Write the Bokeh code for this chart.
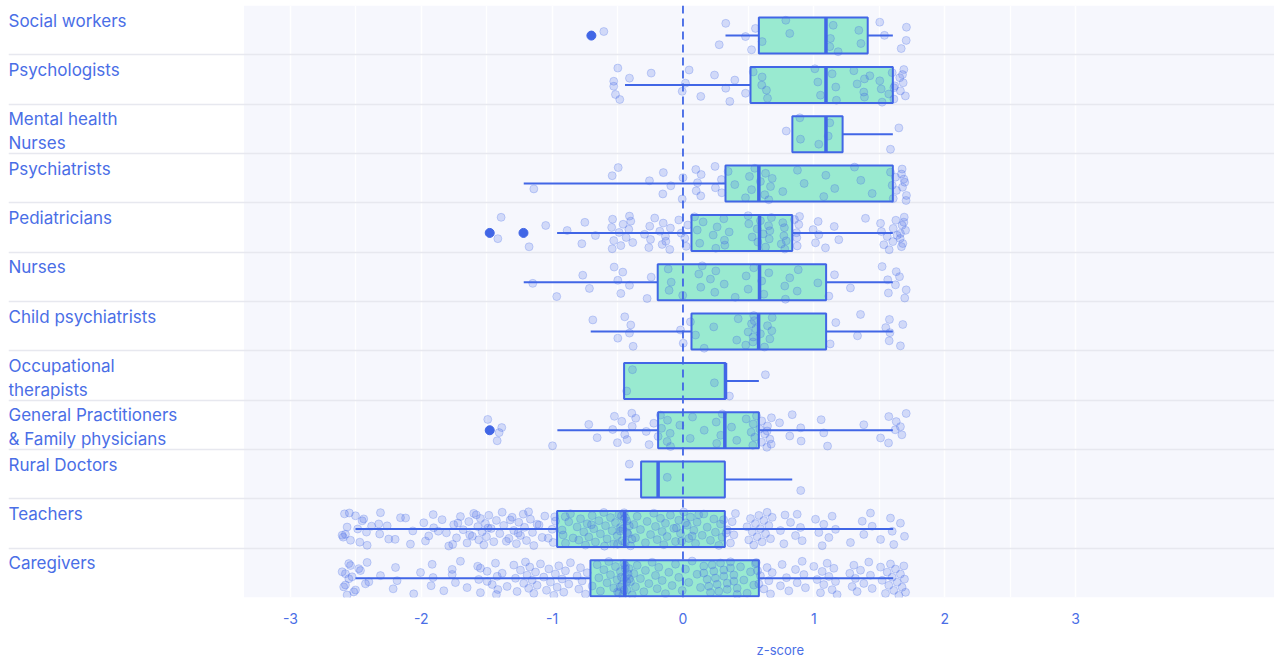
from bokeh.plotting import figure
from bokeh.models import FixedTicker, Range1d, Span, ColumnDataSource, Title
from bokeh.embed import file_html
from bokeh.resources import INLINE
from bokeh.core.properties import value

# ---------------- data ----------------
categories = ["Social workers", "Psychologists", "Mental health\nNurses", "Psychiatrists",
              "Pediatricians", "Nurses", "Child psychiatrists", "Occupational\ntherapists",
              "General Practitioners\n& Family physicians", "Rural Doctors", "Teachers", "Caregivers"]

tick_values = [-3, -2, -1, 0, 1, 2, 3]
tick_labels = ["-3", "-2", "-1", "0", "1", "2", "3"]

whisker_low = [0.325, -0.443, 0.836, -1.217, -0.962, -1.217, -0.705, -0.45, -0.96, -0.445, -2.503, -2.503]
q1 =          [0.58, 0.516, 0.836, 0.325, 0.065, -0.193, 0.065, -0.45, -0.19, -0.32, -0.962, -0.707]
median =      [1.093, 1.093, 1.093, 0.58, 0.585, 0.585, 0.578, 0.325, 0.32, -0.19, -0.445, -0.445]
q3 =          [1.412, 1.604, 1.22, 1.604, 0.835, 1.094, 1.094, 0.325, 0.58, 0.32, 0.32, 0.58]
whisker_high = [1.604, 1.604, 1.604, 1.604, 1.604, 1.604, 1.604, 0.58, 1.604, 0.835, 1.607, 1.607]

outliers_social_workers = [-0.70]
outliers_pediatricians = [-1.477, -1.219]
outliers_gp = [-1.477]

pts_social_workers = [-0.605, 0.277, 0.327, 0.478, 0.524, 0.554, 0.605, 0.786, 0.816, 1.122, 1.148, 1.127,
                      1.186, 1.344, 1.36, 1.504, 1.54, 1.668, 1.708, 1.706]
pts_psychologists = [-0.498, -0.529, -0.516, -0.243, -0.529, -0.483, -0.409, -0.006, 0.047, 0.019, 0.136,
                     0.241, 0.327, 0.358, 0.396, 0.478, 0.537, 0.602, 0.646, 0.605, 0.638, 1.008, 1.031,
                     1.051, 1.14, 1.168, 1.173, 1.387, 1.382, 1.306, 1.331, 1.387, 1.428, 1.515, 1.522,
                     1.504, 1.573, 1.599, 1.619, 1.612, 1.657, 1.662, 1.688, 1.683, 1.70, 1.678, 1.612]
pts_mh_nurses = [0.898, 0.893, 0.789, 1.038, 1.122, 1.11, 1.586, 1.65]
pts_psychiatrists = [-0.541, -1.14, -0.495, -0.256, -0.154, -0.150, -0.093, -0.006, 0.0, 0.101, 0.098,
                     0.111, 0.136, 0.139, 0.248, 0.245, 0.294, 0.297, 0.345, 0.396, 0.478, 0.508, 0.524,
                     0.549, 0.592, 0.625, 0.631, 0.669, 0.656, 0.682, 0.763, 0.875, 0.926, 1.076, 1.092,
                     1.16, 1.311, 1.359, 1.446, 1.586, 1.599, 1.607, 1.624, 1.632, 1.675, 1.695, 1.708,
                     1.67, 1.678, 1.705, 1.688]
pts_pediatricians = [-1.176, -1.049, -1.415, -1.39, -0.885, -0.773, -0.75, -0.669, -0.541, -0.545, -0.529,
                     -0.538, -0.488, -0.475, -0.457, -0.434, -0.409, -0.414, -0.384, -0.399, -0.294, -0.261,
                     -0.254, -0.248, -0.216, -0.177, -0.159, -0.151, -0.134, -0.101, -0.096, -0.131, -0.032,
                     -0.014, 0.024, 0.037, 0.014, 0.088, 0.109, 0.128, 0.154, 0.231, 0.251, 0.261, 0.317,
                     0.312, 0.353, 0.320, 0.503, 0.529, 0.498, 0.567, 0.572, 0.592, 0.613, 0.631, 0.654,
                     0.659, 0.676, 0.664, 0.751, 0.763, 0.771, 0.778, 0.775, 0.789, 0.852, 0.868, 0.873,
                     0.885, 0.870, 0.891, 0.995, 1.013, 1.033, 1.038, 1.089, 1.156, 1.191, 1.395, 1.517,
                     1.535, 1.51, 1.561, 1.576, 1.607, 1.604, 1.627, 1.662, 1.67, 1.675, 1.66, 1.691, 1.701,
                     1.68, 1.688, 1.637]
pts_nurses = [-1.148, -0.965, -0.766, -0.715, -0.526, -0.498, -0.475, -0.46, -0.409, -0.274, -0.243,
              -0.106, -0.113, -0.09, -0.002, 0.121, 0.136, 0.147, 0.21, 0.243, 0.251, 0.315, 0.399, 0.483,
              0.498, 0.541, 0.602, 0.618, 0.656, 0.778, 0.783, 0.816, 0.873, 0.881, 1.031, 1.115, 1.158,
              1.28, 1.522, 1.565, 1.57, 1.63, 1.624, 1.695, 1.655, 1.706]
pts_child_psychiatrists = [-0.689, -0.409, -0.381, -0.399, -0.498, -0.445, -0.019, 0.002, 0.057, 0.096,
                           0.162, 0.235, 0.411, 0.422, 0.498, 0.48, 0.524, 0.537, 0.541, 0.557, 0.535,
                           0.545, 0.592, 0.623, 0.646, 0.664, 0.682, 0.679, 1.125, 1.168, 1.334, 1.357,
                           1.55, 1.576, 1.578, 1.582, 1.662, 1.68]
pts_occupational = [-0.43, -0.386, 0.24, 0.355, 0.63]
pts_gp = [-1.385, -1.42, -1.492, -1.405, -0.997, -0.72, -0.656, -0.524, -0.537, -0.501, -0.468, -0.445,
          -0.391, -0.388, -0.427, -0.361, -0.281, -0.259, -0.223, -0.19, -0.172, -0.164, -0.121, -0.118,
          -0.098, -0.095, -0.024, 0.055, 0.073, 0.162, 0.258, 0.254, 0.289, 0.3, 0.371, 0.411, 0.483, 0.521,
          0.534, 0.537, 0.549, 0.562, 0.587, 0.6, 0.602, 0.625, 0.641, 0.646, 0.664, 0.676, 0.643, 0.674,
          0.738, 0.816, 0.835, 0.9, 0.903, 1.056, 1.076, 1.105, 1.382, 1.51, 1.573, 1.622, 1.571, 1.63,
          1.673, 1.706, 1.662]
pts_rural = [-0.41, -0.12, 0.9]
pts_teachers = [
    -2.605, -2.587, -2.567, -2.541, -2.44, -2.419, -2.414, -2.325, -2.597, -2.503, -2.486, -2.47, -2.452,
    -2.318, -2.312, -2.261, -2.249, -2.159, -2.065, -2.083, -1.981, -1.943, -1.909, -1.905, -1.968, -1.841,
    -1.808, -1.79, -1.752, -1.731, -1.701, -1.68, -1.65, -1.637, -1.63, -1.599, -1.568, -1.561, -1.548,
    -1.535, -1.522, -1.51, -1.502, -1.484, -1.466, -1.446, -1.426, -1.4, -1.382, -1.37, -1.331, -1.306,
    -1.293, -1.273, -1.255, -1.242, -1.221, -1.211, -1.196, -1.166, -1.15, -1.14, -1.115, -1.076, -1.056,
    -1.0, -0.992, -0.975, -2.58, -2.55, -2.38, -2.2, -2.12, -1.87, -1.76, -1.72, -1.61, -1.58, -1.49,
    -1.35, -1.32, -1.26, -1.18, -1.1, -1.03, -0.98,
    -0.924, -0.898, -0.873, -0.916, -0.86, -0.809, -0.796, -0.783, -0.758, -0.745, -0.732, -0.72, -0.694,
    -0.682, -0.669, -0.643, -0.631, -0.605, -0.592, -0.58, -0.554, -0.541, -0.529, -0.516, -0.503, -0.49,
    -0.478, -0.465, -0.452, -0.427, -0.401, -0.376, -0.363, -0.35, -0.325, -0.287, -0.274, -0.248, -0.223,
    -0.21, -0.197, -0.172, -0.159, -0.147, -0.134, -0.121, -0.096, -0.07, -0.057, -0.032, -0.019, 0.006,
    0.032, 0.044, 0.057, 0.083, 0.096, 0.108, 0.147, 0.159, 0.185, 0.21, 0.236, 0.248, 0.274, 0.287,
    0.299, -0.47, -0.46, -0.44, -0.43, -0.42, -0.45, -0.41, -0.39, -0.44, -0.48, -0.5, 0.02, 0.07, 0.12,
    -0.05, -0.01, 0.31, 0.33, -0.6, -0.7, -0.84, -0.9,
    0.338, 0.363, 0.376, 0.389, 0.401, 0.49, 0.503, 0.516, 0.529, 0.541, 0.554, 0.567, 0.58, 0.592, 0.605,
    0.618, 0.631, 0.643, 0.656, 0.669, 0.682, 0.745, 0.771, 0.822, 0.86, 0.873, 0.898, 0.911, 1.013, 1.038,
    1.064, 1.076, 1.115, 1.14, 1.166, 1.28, 1.37, 1.382, 1.433, 1.446, 1.51, 1.586, 1.599, 1.611, 1.662,
    1.693, 0.78]
pts_caregivers = [
    -2.605, -2.58, -2.554, -2.529, -2.503, -2.478, -2.401, -2.567, -2.58, -2.593, -2.541, -2.554, -2.516,
    -2.465, -2.427, -2.414, -2.312, -2.215, -2.197, -2.185, -2.058, -2.006, -1.925, -1.917, -1.91, -1.828,
    -1.764, -1.739, -1.701, -1.764, -1.65, -1.569, -1.561, -1.548, -1.497, -1.458, -1.433, -1.42, -1.415,
    -1.548, -1.497, -1.426, -1.382, -1.344, -1.293, -1.28, -1.268, -1.242, -1.217, -1.204, -1.191, -1.179,
    -1.171, -1.153, -1.14, -1.127, -1.115, -1.089, -1.064, -1.043, -1.025, -1.013, -0.987, -0.975, -0.962,
    -0.949, -0.924, -0.911, -0.898, -0.873, -0.86, -0.809, -0.796, -0.783, -0.771, -0.745, -0.732, -0.694,
    -0.656, -0.643, -0.631, -0.605, -0.58, -0.567, -0.554, -0.529, -0.516, -0.503, -0.49, -0.478, -0.465,
    -0.452, -0.439, -0.427, -0.414, -0.401, -0.388, -0.376, -0.363, -0.35, -0.325, -0.299, -0.287, -0.261,
    -0.236, -0.21, -0.197, -0.185, -0.159, -0.134, -0.108, -0.083, -0.057, -0.032, -0.006, 0.019, 0.044,
    0.07, 0.108, 0.134, 0.159, 0.185, 0.21, 0.236, 0.261, 0.287, 0.312, 0.338, 0.363, 0.389, 0.414,
    0.159, 0.197, 0.223, 0.248, 0.274, 0.312, 0.338, 0.363, 0.389, 0.414, 0.44, 0.465, 0.49, 0.516, 0.541,
    0.554, -0.47, -0.45, -0.44, -0.43, -0.46, -0.42, -0.48, -0.44, -0.41, -0.5, 0.57, 0.58, 0.56,
    0.592, 0.618, 0.643, 0.656, 0.669, 0.682, 0.745, 0.758, 0.791, 0.809, 0.86, 0.873, 0.911, 0.924, 0.936,
    1.0, 1.025, 1.051, 1.064, 1.076, 1.102, 1.115, 1.14, 1.153, 1.166, 1.178, 1.275, 1.293, 1.306, 1.318,
    1.331, 1.357, 1.382, 1.42, 1.433, 1.446, 1.51, 1.522, 1.548, 1.561, 1.573, 1.586, 1.599, 1.611, 1.624,
    1.637, 1.65, 1.662, 1.675, 1.688, 1.693, 1.701]

points_by_category = [pts_social_workers, pts_psychologists, pts_mh_nurses, pts_psychiatrists,
                      pts_pediatricians, pts_nurses, pts_child_psychiatrists, pts_occupational, pts_gp,
                      pts_rural, pts_teachers, pts_caregivers]
outliers_by_category = [outliers_social_workers, [], [], [], outliers_pediatricians, [], [], [], outliers_gp,
                        [], [], []]

# ---------------- styling ----------------
BLUE = "#4166e6"
TEXT_BLUE = "#4a6ee6"
BOX_FILL = "#99ead0"
SHADE = "#f6f7fd"
HGRID = "#e7e8ef"
FONT = "Inter"

n = len(categories)
band_top = [n - i for i in range(n)]
center = [n - i - 0.5 - 0.11 for i in range(n)]
half = 0.365

X0, X1 = -5.155, 4.521
p = figure(width=1274, height=658, output_backend="svg", toolbar_location=None,
           x_range=Range1d(X0, X1), y_range=Range1d(0, 12),
           min_border_left=8, min_border_right=0, min_border_top=5, min_border_bottom=61,
           background_fill_color="white", border_fill_color="white", outline_line_color=None)

# shaded plotting area (under grid lines)
p.quad(left=[-3.355], right=[X1], bottom=[0], top=[12], fill_color=SHADE, line_color=None, level="image")

# grids
p.xgrid.ticker = FixedTicker(ticks=tick_values,
                             minor_ticks=[-3, -2.5, -2, -1.5, -1, -0.5, 0, 0.5, 1, 1.5, 2, 2.5, 3])
p.xgrid.grid_line_color = "white"
p.xgrid.grid_line_width = 1.3
p.xgrid.minor_grid_line_color = "white"
p.xgrid.minor_grid_line_width = 1.3
p.ygrid.ticker = FixedTicker(ticks=list(range(0, 13)))
p.ygrid.grid_line_color = HGRID
p.ygrid.grid_line_width = 1.5
p.yaxis.visible = False

# axis
p.xaxis.ticker = FixedTicker(ticks=tick_values)
p.xaxis.major_label_overrides = {v: s for v, s in zip(tick_values, tick_labels)}
p.xaxis.axis_line_color = None
p.xaxis.major_tick_line_color = None
p.xaxis.minor_tick_line_color = None
p.xaxis.major_label_text_color = TEXT_BLUE
p.xaxis.major_label_text_font = FONT
p.xaxis.major_label_text_font_size = "14px"
p.xaxis.major_label_standoff = 9

# box fills
box_src = ColumnDataSource(dict(q1=q1, q3=q3, med=median, lo=whisker_low, hi=whisker_high,
                                yc=center, yb=[c - half for c in center], yt=[c + half for c in center]))
p.quad(left="q1", right="q3", bottom="yb", top="yt", source=box_src, fill_color=BOX_FILL, line_color=None)

# jittered points (deterministic golden-ratio jitter)
px, py = [], []
for i, vals in enumerate(points_by_category):
    for j, v in enumerate(vals):
        frac = ((j + 1) * 0.6180339887 + i * 0.37) % 1.0
        px.append(v)
        py.append(center[i] + (frac - 0.5) * 2 * 0.35)
p.scatter(px, py, size=8, fill_color=BLUE, fill_alpha=0.2, line_color=BLUE, line_alpha=0.25, line_width=1)

# box outlines, whiskers, medians
p.quad(left="q1", right="q3", bottom="yb", top="yt", source=box_src, fill_color=None,
       line_color=BLUE, line_width=2)
p.segment(x0="lo", x1="q1", y0="yc", y1="yc", source=box_src, line_color=BLUE, line_width=2)
p.segment(x0="q3", x1="hi", y0="yc", y1="yc", source=box_src, line_color=BLUE, line_width=2)
p.segment(x0="med", x1="med", y0="yb", y1="yt", source=box_src, line_color=BLUE, line_width=3.5)

# outliers
ox, oy = [], []
for i, vals in enumerate(outliers_by_category):
    for v in vals:
        ox.append(v)
        oy.append(center[i])
p.scatter(ox, oy, size=9, fill_color=BLUE, line_color=BLUE)

# zero line
p.add_layout(Span(location=0, dimension="height", line_color=BLUE, line_width=1.8, line_dash="8 5"))

# category labels
p.text(x=[X0] * n, y=band_top, text=categories, text_font=value(FONT), text_font_size="17px",
       text_color=TEXT_BLUE, text_align="left", text_baseline="top", y_offset=5, text_line_height=1.2)

# spacer + x-axis title
p.add_layout(Title(text=" ", text_font=FONT, text_font_size="9px", standoff=0), "below")
p.add_layout(Title(text="z-score", align="left", offset=748, text_font=FONT, text_font_size="13px",
                   text_font_style="normal", text_color=TEXT_BLUE, standoff=0), "below")

open("out.html", "w").write(file_html(p, INLINE))
